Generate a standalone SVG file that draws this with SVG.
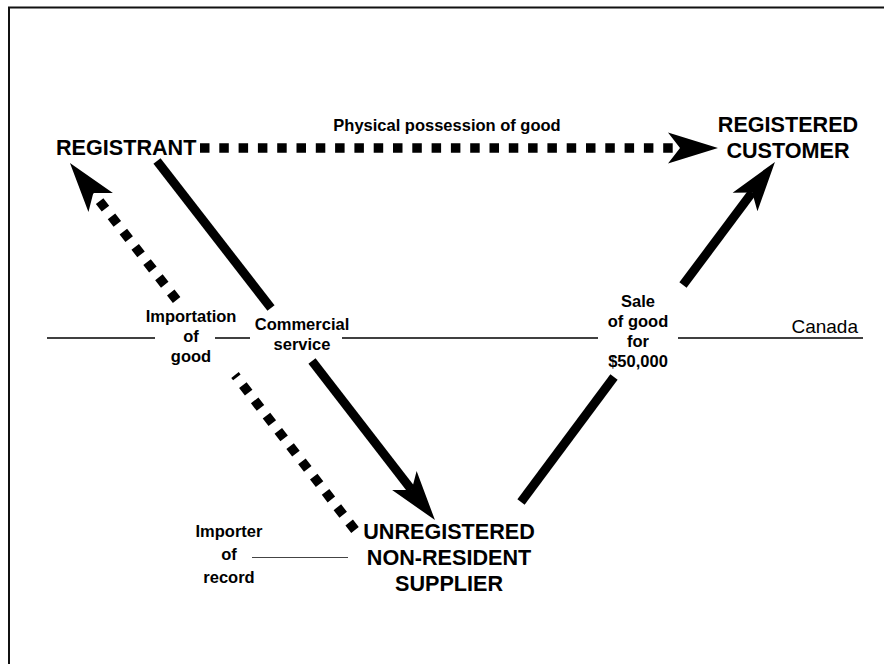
<svg xmlns="http://www.w3.org/2000/svg" width="884" height="664" viewBox="0 0 884 664">
<style>
  text { font-family: "Liberation Sans", Arial, Helvetica, sans-serif; fill: #000; }
  .node { font-size: 21.6px; font-weight: bold; }
  .lbl { font-size: 16.5px; font-weight: bold; text-anchor: middle; }
  .mid { text-anchor: middle; }
  .solid { fill: none; stroke: #000; stroke-width: 9; stroke-linecap: butt; }
  .dots { fill: none; stroke: #000; stroke-width: 9.5; stroke-dasharray: 9.5 9.8; stroke-linecap: butt; }
  .thin { fill: none; stroke: #000; stroke-width: 1.3; }
</style>
<defs>
  <marker id="ah" markerUnits="userSpaceOnUse" markerWidth="54" markerHeight="36" viewBox="-13 -18 54 36" refX="0" refY="0" orient="auto">
    <path d="M0,0 L-12,-15.5 L38,0 L-12,15.5 Z" fill="#000"/>
  </marker>
</defs>
<rect width="884" height="664" fill="#fff"/>
<g id="frame">
  <line x1="8" y1="7.5" x2="884" y2="7.5" stroke="#111" stroke-width="2"/>
  <line x1="9" y1="7" x2="9" y2="664" stroke="#111" stroke-width="2"/>
</g>
<g id="border-line">
  <line class="thin" x1="47" y1="338" x2="155" y2="338"/>
  <line class="thin" x1="215" y1="338" x2="250" y2="338"/>
  <line class="thin" x1="342" y1="338" x2="598" y2="338"/>
  <line class="thin" x1="678" y1="338" x2="863" y2="338"/>
  <text x="858" y="333" font-size="19" text-anchor="end">Canada</text>
</g>
<g id="connectors">
  <path class="dots" d="M200,148 L680,148" marker-end="url(#ah)"/>
  <path class="solid" d="M157,161 L271,308"/>
  <path class="solid" d="M312,361 L411.7,490" marker-end="url(#ah)"/>
  <path class="solid" d="M521,502 L614,377"/>
  <path class="solid" d="M683,285 L752.2,192.4" marker-end="url(#ah)"/>
  <path class="dots" d="M355,530 L235,375"/>
  <path class="dots" d="M176.6,300 L93.3,193" marker-end="url(#ah)"/>
  <line x1="252" y1="557.5" x2="348" y2="557.5" stroke="#444" stroke-width="1.2"/>
</g>
<g id="labels">
  <text class="lbl" x="447" y="131">Physical possession of good</text>
  <text class="lbl" x="191" y="322">Importation</text>
  <text class="lbl" x="191" y="342">of</text>
  <text class="lbl" x="191" y="362">good</text>
  <text class="lbl" x="302" y="330">Commercial</text>
  <text class="lbl" x="302" y="350">service</text>
  <text class="lbl" x="638" y="307">Sale</text>
  <text class="lbl" x="638" y="327">of good</text>
  <text class="lbl" x="638" y="346.5">for</text>
  <text class="lbl" x="638" y="366.5">$50,000</text>
  <text class="lbl" x="229" y="537">Importer</text>
  <text class="lbl" x="229" y="560">of</text>
  <text class="lbl" x="229" y="583">record</text>
</g>
<g id="registrant">
  <text class="node" x="56" y="155">REGISTRANT</text>
</g>
<g id="registered-customer">
  <text class="node mid" x="788" y="132">REGISTERED</text>
  <text class="node mid" x="788" y="158">CUSTOMER</text>
</g>
<g id="unregistered-supplier">
  <text class="node mid" x="449" y="539">UNREGISTERED</text>
  <text class="node mid" x="449" y="565">NON-RESIDENT</text>
  <text class="node mid" x="449" y="591">SUPPLIER</text>
</g>
</svg>
